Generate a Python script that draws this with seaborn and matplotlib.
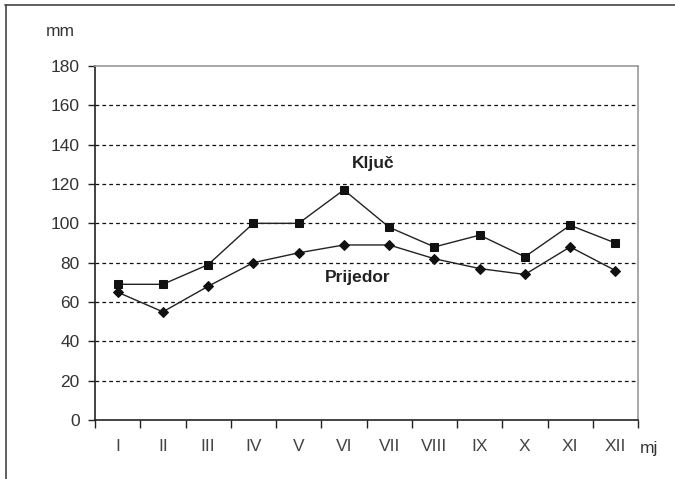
import matplotlib
matplotlib.use("Agg")
import matplotlib.pyplot as plt
from matplotlib.lines import Line2D
import numpy as np
import pandas as pd
import seaborn as sns

months = ["I", "II", "III", "IV", "V", "VI", "VII", "VIII", "IX", "X", "XI", "XII"]
kljuc = [69, 69, 79, 100, 100, 117, 98, 88, 94, 83, 99, 90]
prijedor = [65, 55, 68, 80, 85, 89, 89, 82, 77, 74, 88, 76]
yticks = [0, 20, 40, 60, 80, 100, 120, 140, 160, 180]

sns.set_theme(style="white")
plt.rcParams["font.family"] = ["Liberation Sans", "DejaVu Sans"]

df = pd.DataFrame({
    "mj": months * 2,
    "mm": kljuc + prijedor,
    "st": ["Ključ"] * 12 + ["Prijedor"] * 12,
})

fig = plt.figure(figsize=(6.75, 4.79), dpi=100)
ax = fig.add_axes([95 / 675, 1 - 420 / 479, (638 - 95) / 675, (420 - 66) / 479])

sns.lineplot(data=df[df.st == "Ključ"], x="mj", y="mm", ax=ax, color="#222222",
             linewidth=1.0, marker="s", markersize=6, markeredgecolor="#111111",
             markerfacecolor="#111111", sort=False)
sns.lineplot(data=df[df.st == "Prijedor"], x="mj", y="mm", ax=ax, color="#222222",
             linewidth=1.0, marker="D", markersize=5.5, markeredgecolor="#111111",
             markerfacecolor="#111111", sort=False)

fs = 12.5
ax.set_xlim(-0.5, 11.5)
ax.set_ylim(0, 180)
ax.set_yticks(yticks)
ax.set_yticklabels([str(v) for v in yticks], fontsize=fs, color="#333333")
ax.set_xticks(range(12))
ax.set_xticklabels(months, fontsize=fs, color="#444444")
ax.set_xticks(np.arange(-0.5, 12, 1), minor=True)
ax.tick_params(axis="x", which="major", length=0, pad=14)
ax.tick_params(axis="x", which="minor", length=6, width=1, color="#222222", direction="out", bottom=True)
ax.tick_params(axis="y", which="major", length=5, width=1, color="#222222", direction="out", left=True, pad=6)
ax.set_xlabel("")
ax.set_ylabel("")

for v in yticks[1:-1]:
    ax.axhline(v, color="#111111", linewidth=0.9, linestyle=(0, (3, 2.5)), zorder=0)

for s in ["left", "bottom"]:
    ax.spines[s].set_color("#222222")
    ax.spines[s].set_linewidth(1.2)
for s in ["top", "right"]:
    ax.spines[s].set_color("#999999")
    ax.spines[s].set_linewidth(1.2)

fig.text(46 / 675, 1 - 31 / 479, "mm", fontsize=fs, color="#333333", va="center", ha="left")
fig.text(640 / 675, 1 - 448 / 479, "mj", fontsize=fs, color="#333333", va="center", ha="left")
ax.text(5.18, 130.5, "Ključ", fontsize=12.5, fontweight="bold", color="#222222", ha="left", va="center")
ax.text(4.58, 72.5, "Prijedor", fontsize=12.5, fontweight="bold", color="#222222", ha="left", va="center")

# outer frame (top and left)
fig.add_artist(Line2D([5 / 675, 1], [1 - 5 / 479, 1 - 5 / 479], color="#444444", linewidth=1.2))
fig.add_artist(Line2D([6 / 675, 6 / 675], [0, 1 - 5 / 479], color="#444444", linewidth=1.2))

fig.savefig("out.png", dpi=100)
